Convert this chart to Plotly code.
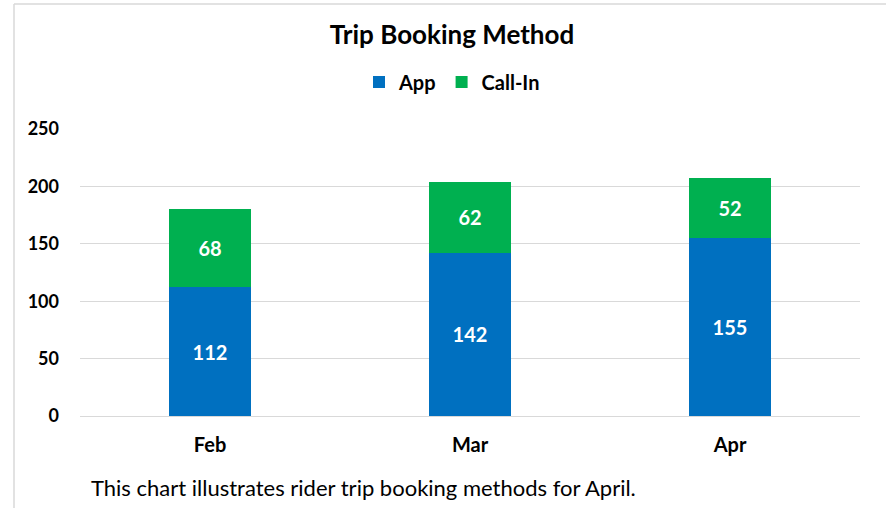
import plotly.graph_objects as go

months = ["Feb", "Mar", "Apr"]
app = [112, 142, 155]
call_in = [68, 62, 52]
y_ticks = [0, 50, 100, 150, 200, 250]

FONT = "Lato"
W, H = 886, 508
L, R, T, B = 80, 26, 129, 92
pw, ph = W - L - R, H - T - B

def px(x):
    return (x - L) / pw

def py(y):
    return (H - B - y) / ph

lab_font = dict(color="white", size=20, family=FONT, weight="bold")

fig = go.Figure()
fig.add_trace(go.Bar(
    name="App", x=months, y=app, marker=dict(color="#0070C0", line=dict(width=0)),
    text=app, textposition="inside", insidetextanchor="middle", textfont=lab_font,
))
fig.add_trace(go.Bar(
    name="Call-In", x=months, y=call_in, marker=dict(color="#00B050", line=dict(width=0)),
    text=call_in, textposition="inside", insidetextanchor="middle", textfont=lab_font,
))

fig.update_layout(
    width=W, height=H, barmode="stack", bargap=0.685,
    paper_bgcolor="white", plot_bgcolor="white",
    margin=dict(l=L, r=R, t=T, b=B),
    font=dict(family=FONT, color="black"),
    title=dict(text="<b>Trip Booking Method</b>", xref="paper", x=px(452), xanchor="center",
               y=1 - 35 / H, yanchor="middle", font=dict(size=26, family=FONT, color="black")),
    legend=dict(orientation="h", x=px(452), xanchor="center", y=py(82), yanchor="middle",
                font=dict(size=20, family=FONT, weight="bold", color="black"),
                itemwidth=30, traceorder="normal"),
    uniformtext=dict(mode="show", minsize=10),
)
fig.update_yaxes(range=[0, 250], tickvals=y_ticks, showgrid=True, gridcolor="#D9D9D9",
                 gridwidth=1, zeroline=False, showline=False, ticks="",
                 tickfont=dict(size=18, family=FONT, weight="bold", color="black"), ticklabelstandoff=20)
fig.update_xaxes(showline=True, linecolor="#D9D9D9", linewidth=1, ticks="",
                 tickfont=dict(size=20, family=FONT, weight="bold", color="black"), ticklabelstandoff=11)

fig.add_annotation(text="This chart illustrates rider trip booking methods for April.",
                   xref="paper", yref="paper", x=px(89), y=py(487), xanchor="left", yanchor="middle",
                   showarrow=False, font=dict(size=22, family=FONT, color="black"))

fig.add_shape(type="line", xref="paper", yref="paper", x0=px(14), x1=px(886), y0=py(4), y1=py(4),
              line=dict(color="#D9D9D9", width=1.5))
fig.add_shape(type="line", xref="paper", yref="paper", x0=px(14), x1=px(14), y0=py(4), y1=py(508),
              line=dict(color="#D9D9D9", width=1.5))

fig.write_html("out.html", config={"displayModeBar": False},
               post_script="document.body.style.margin='0';")
